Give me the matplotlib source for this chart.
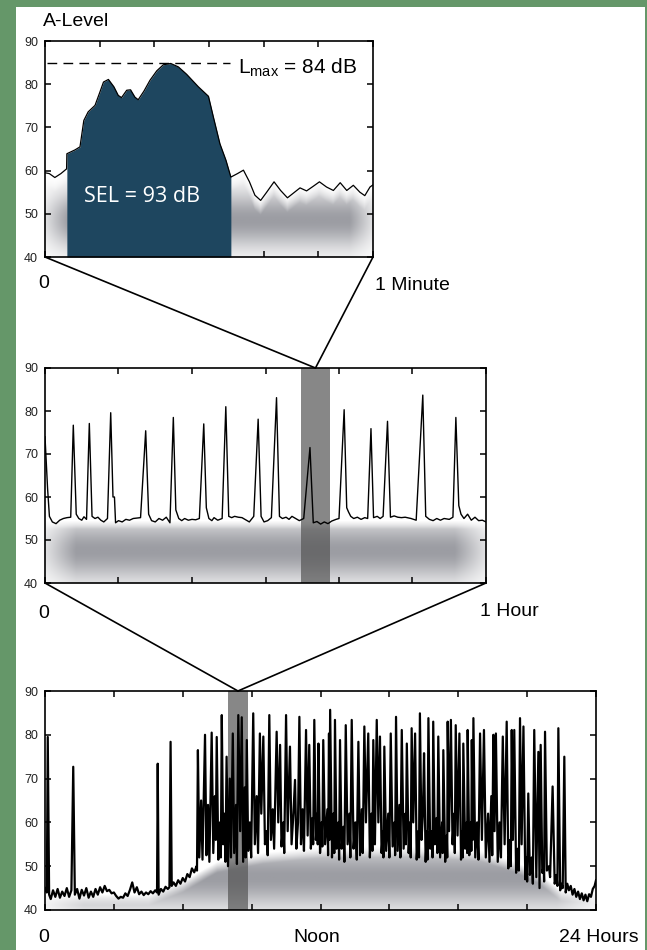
import numpy as np
import matplotlib.pyplot as plt
from matplotlib.colors import LinearSegmentedColormap
from matplotlib.patches import Polygon, Rectangle, ConnectionPatch

plt.rcParams['font.family'] = ['Liberation Sans', 'DejaVu Sans']

# --- 1 minute record (seconds, dB(A)) ---
minute_readings = [
    (0.0, 59.5), (0.8, 59.3), (1.8, 58.4), (2.9, 59.3), (3.95, 60.4),
    (4.0, 63.9), (5.5, 64.8), (6.4, 65.5), (7.1, 71.6), (7.9, 73.6),
    (9.15, 75.1), (10.05, 78.2), (10.7, 80.5), (11.6, 81.1), (12.6, 79.4),
    (13.4, 77.4), (14.0, 76.9), (14.95, 78.6), (15.65, 78.7), (16.45, 77.0),
    (17.05, 76.4), (18.1, 78.4), (19.2, 80.9), (20.45, 83.1), (21.65, 84.5),
    (23.0, 84.8), (24.4, 84.0), (25.9, 82.3), (28.05, 79.4), (29.9, 77.2),
    (30.8, 72.4), (32.0, 66.2), (33.1, 62.4), (34.0, 58.5), (35.2, 59.3),
    (36.3, 60.1), (37.4, 57.4), (38.4, 54.3), (39.45, 53.1), (40.55, 55.0),
    (41.9, 57.4), (43.1, 55.4), (44.35, 53.7), (45.45, 54.8), (46.65, 56.0),
    (47.85, 55.3), (49.1, 56.4), (50.2, 57.4), (51.5, 56.2), (52.75, 55.4),
    (54.0, 57.2), (55.2, 55.4), (56.4, 56.6), (57.6, 55.0), (58.5, 54.2),
    (59.45, 56.2), (60.0, 56.7),
]
sel_window = (4.0, 34.0)
sel_label = 'SEL = 93 dB'
lmax_label = r'L$_{\mathregular{max}}$ = 84 dB'

# --- 1 hour record (minutes, dB(A)) ---
hour_readings = [
    (0.0, 74.0), (0.35, 62.0), (0.6, 55.5), (1.0, 54.2), (1.5, 53.8),
    (2.0, 54.6), (2.5, 55.0), (3.0, 55.2), (3.5, 55.3), (3.85, 76.7),
    (4.25, 56.0), (4.6, 55.0), (5.0, 54.6), (5.3, 55.4), (5.65, 54.8),
    (6.03, 77.1), (6.4, 55.5), (6.8, 55.0), (7.2, 55.3), (7.6, 54.6),
    (8.0, 54.2), (8.5, 55.0), (8.94, 79.6), (9.25, 60.0), (9.45, 60.0),
    (9.6, 54.0), (10.0, 54.5), (10.5, 54.2), (11.0, 54.8), (11.5, 54.6),
    (12.0, 55.0), (12.5, 55.1), (13.0, 55.2), (13.7, 75.4), (14.1, 56.0),
    (14.5, 54.5), (15.0, 54.2), (15.5, 55.0), (16.0, 54.6), (16.5, 55.3),
    (17.0, 54.0), (17.46, 78.5), (17.8, 57.0), (18.2, 55.0), (18.6, 54.5),
    (19.0, 55.0), (19.5, 54.6), (20.0, 54.8), (20.5, 54.7), (21.0, 55.0),
    (21.6, 77.0), (21.95, 57.5), (22.3, 55.0), (22.7, 54.5), (23.0, 55.2),
    (23.5, 54.6), (24.1, 55.0), (24.6, 81.0), (25.0, 55.5), (25.4, 55.2),
    (25.8, 55.5), (26.3, 55.3), (26.8, 55.2), (27.3, 54.7), (27.8, 54.2),
    (28.4, 55.5), (29.0, 78.1), (29.4, 55.5), (29.8, 54.2), (30.3, 54.5),
    (30.8, 55.2), (31.5, 83.1), (31.9, 55.5), (32.3, 55.0), (32.8, 55.3),
    (33.2, 54.8), (33.6, 55.5), (34.1, 55.0), (34.6, 54.5), (35.2, 55.0),
    (36.05, 71.5), (36.5, 54.0), (37.0, 54.3), (37.5, 53.7), (38.0, 54.2),
    (38.5, 53.8), (39.0, 54.4), (39.6, 54.8), (40.0, 55.0), (40.7, 80.3),
    (41.05, 57.5), (41.3, 56.5), (41.6, 55.5), (42.0, 55.0), (42.5, 55.3),
    (43.0, 54.8), (43.5, 55.2), (43.9, 55.0), (44.35, 75.9), (44.7, 55.2),
    (45.2, 55.5), (45.6, 55.0), (46.0, 55.5), (46.6, 77.6), (47.0, 55.3),
    (47.5, 55.6), (48.0, 55.3), (48.5, 55.2), (49.0, 55.3), (49.8, 55.0),
    (50.5, 54.6), (51.4, 83.7), (51.8, 55.5), (52.3, 54.8), (52.8, 54.5),
    (53.3, 55.0), (53.8, 54.6), (54.3, 55.0), (55.0, 54.8), (55.5, 55.3),
    (55.9, 78.5), (56.3, 58.0), (56.6, 56.0), (57.0, 55.0), (57.5, 56.0),
    (58.0, 54.6), (58.5, 55.3), (59.0, 54.5), (59.5, 54.6), (60.0, 54.2),
]
hour_window = (34.8, 38.8)   # the minute shown above

# --- 24 hour record (hours, dB(A)) ---
day_quiet = [
    (0.00, 45.0), (0.08, 44.0), (0.12, 79.5), (0.18, 43.5), (0.25, 42.5),
    (0.35, 44.5), (0.45, 43.0), (0.55, 44.8), (0.65, 42.8), (0.75, 44.2),
    (0.85, 43.2), (0.95, 45.0), (1.05, 43.0), (1.15, 44.5), (1.23, 72.7),
    (1.30, 43.5), (1.40, 44.8), (1.50, 42.6), (1.60, 44.6), (1.70, 43.3),
    (1.80, 45.0), (1.90, 42.8), (2.00, 44.2), (2.10, 43.0), (2.20, 44.8),
    (2.30, 43.5), (2.40, 45.2), (2.50, 44.0), (2.60, 45.5), (2.70, 44.3),
    (2.80, 44.6), (2.90, 43.8), (3.00, 44.0), (3.10, 43.2), (3.20, 42.6),
    (3.30, 43.0), (3.40, 42.8), (3.50, 43.8), (3.60, 43.2), (3.70, 44.6),
    (3.80, 46.3), (3.90, 44.0), (4.00, 45.2), (4.10, 43.6), (4.20, 44.2),
    (4.30, 43.4), (4.40, 44.0), (4.50, 43.6), (4.60, 44.3), (4.70, 43.8),
    (4.80, 44.5), (4.88, 44.0), (4.91, 73.4), (4.95, 43.5), (5.05, 44.8),
    (5.15, 44.2), (5.25, 45.3), (5.35, 44.8), (5.42, 45.2), (5.47, 78.4),
    (5.52, 45.5), (5.60, 46.3), (5.70, 45.5), (5.80, 46.8), (5.90, 46.0),
    (6.00, 47.3), (6.10, 46.5), (6.20, 48.2), (6.30, 47.5), (6.40, 49.5),
    (6.50, 48.6), (6.60, 50.0),
]
day_busy = [
    (6.62, 49.0), (6.66, 76.5), (6.72, 52.0), (6.80, 65.0), (6.86, 51.5),
    (6.97, 80.0), (7.03, 52.5), (7.10, 64.0), (7.16, 51.0), (7.26, 80.5),
    (7.33, 53.0), (7.40, 66.0), (7.44, 56.0), (7.48, 79.5), (7.55, 51.5),
    (7.62, 60.0), (7.66, 52.0), (7.70, 84.5), (7.76, 55.0), (7.82, 62.0),
    (7.86, 51.0), (7.91, 75.0), (7.97, 50.0), (8.05, 70.0), (8.10, 52.0),
    (8.18, 80.3), (8.24, 53.0), (8.32, 64.0), (8.36, 50.5), (8.42, 84.5),
    (8.50, 58.0), (8.57, 84.0), (8.63, 51.0), (8.70, 68.0), (8.74, 52.0),
    (8.79, 78.8), (8.85, 53.5), (8.92, 60.0), (8.98, 52.0), (9.07, 84.9),
    (9.14, 55.0), (9.22, 66.0), (9.28, 53.0), (9.36, 80.3), (9.42, 62.0),
    (9.51, 79.6), (9.58, 55.0), (9.65, 58.0), (9.70, 52.5), (9.77, 84.5),
    (9.84, 56.0), (9.92, 63.0), (9.98, 54.0), (10.09, 80.7), (10.16, 60.0),
    (10.24, 77.7), (10.30, 54.5), (10.38, 60.0), (10.42, 53.0), (10.50, 84.5),
    (10.57, 58.0), (10.67, 77.3), (10.74, 55.0), (10.82, 62.0), (10.89, 69.7),
    (10.95, 54.0), (11.02, 60.0), (11.08, 84.1), (11.15, 55.0), (11.22, 63.0),
    (11.28, 53.5), (11.37, 81.1), (11.44, 57.0), (11.51, 77.7), (11.58, 54.0),
    (11.65, 61.0), (11.68, 55.0), (11.73, 83.4), (11.80, 56.0), (11.86, 62.0),
    (11.88, 55.0), (11.91, 78.0), (11.98, 53.0), (12.05, 60.0), (12.08, 54.5),
    (12.12, 78.8), (12.20, 55.0), (12.30, 63.0), (12.33, 52.5), (12.37, 80.3),
    (12.39, 56.0), (12.42, 85.7), (12.50, 52.0), (12.56, 62.0), (12.60, 53.0),
    (12.63, 83.4), (12.70, 54.0), (12.78, 60.0), (12.81, 51.5), (12.85, 78.8),
    (12.92, 54.0), (13.00, 59.0), (13.04, 51.0), (13.10, 82.2), (13.18, 55.0),
    (13.26, 62.0), (13.30, 52.0), (13.36, 83.4), (13.44, 54.0), (13.52, 60.0),
    (13.58, 51.5), (13.65, 78.4), (13.72, 52.5), (13.80, 63.0), (13.84, 53.0),
    (13.91, 81.9), (13.98, 60.0), (14.08, 80.3), (14.15, 52.0), (14.22, 62.0),
    (14.26, 53.5), (14.30, 78.8), (14.37, 55.0), (14.45, 83.4), (14.52, 60.0),
    (14.59, 79.6), (14.66, 53.0), (14.72, 58.0), (14.74, 52.0), (14.78, 77.3),
    (14.86, 53.5), (14.95, 62.0), (15.00, 52.0), (15.06, 80.3), (15.14, 54.5),
    (15.22, 60.0), (15.25, 52.5), (15.29, 84.1), (15.36, 53.5), (15.44, 64.0),
    (15.48, 52.0), (15.54, 81.1), (15.62, 54.0), (15.70, 62.0), (15.72, 55.0),
    (15.76, 78.0), (15.84, 53.0), (15.90, 60.0), (15.93, 52.0), (15.97, 81.5),
    (16.04, 60.0), (16.12, 80.3), (16.19, 51.5), (16.26, 58.0), (16.29, 52.0),
    (16.33, 84.9), (16.40, 56.0), (16.46, 62.0), (16.51, 75.8), (16.58, 51.0),
    (16.64, 58.0), (16.66, 51.5), (16.70, 83.8), (16.78, 54.0), (16.85, 58.0),
    (16.88, 52.0), (16.91, 83.0), (16.98, 55.0), (17.06, 61.0), (17.09, 53.0),
    (17.13, 79.6), (17.21, 52.0), (17.30, 60.0), (17.32, 53.0), (17.35, 76.5),
    (17.43, 51.0), (17.50, 57.0), (17.52, 52.0), (17.54, 83.0), (17.60, 58.0),
    (17.68, 83.4), (17.75, 55.0), (17.82, 62.0), (17.85, 53.0), (17.89, 82.2),
    (17.97, 57.0), (18.05, 80.3), (18.12, 51.5), (18.18, 58.0), (18.20, 52.0),
    (18.22, 78.0), (18.30, 54.0), (18.37, 60.0), (18.39, 53.0), (18.41, 81.1),
    (18.48, 52.5), (18.55, 60.0), (18.57, 53.5), (18.59, 78.8), (18.63, 56.0),
    (18.66, 83.8), (18.74, 52.0), (18.82, 60.0), (18.88, 51.5), (18.95, 80.3),
    (19.03, 56.0), (19.12, 81.1), (19.20, 52.0), (19.30, 62.0), (19.36, 51.0),
    (19.44, 66.0), (19.48, 52.5), (19.53, 80.0), (19.58, 58.0), (19.64, 80.3),
    (19.72, 51.0), (19.80, 60.0), (19.86, 52.0), (19.94, 79.6), (20.02, 55.0),
    (20.11, 83.0), (20.18, 49.5), (20.26, 56.0), (20.29, 50.0), (20.33, 81.1),
    (20.38, 56.0), (20.44, 81.1), (20.52, 48.5), (20.60, 54.0), (20.64, 49.0),
    (20.69, 83.8), (20.76, 55.0), (20.84, 81.9), (20.92, 47.0), (20.98, 52.0),
    (21.00, 46.5), (21.05, 66.6), (21.12, 48.0), (21.20, 52.0), (21.25, 46.0),
    (21.31, 81.1), (21.40, 47.5), (21.49, 76.1), (21.54, 45.0), (21.59, 77.7),
    (21.66, 48.5), (21.72, 50.0), (21.74, 46.5), (21.78, 80.7), (21.86, 49.0),
    (21.95, 50.0), (22.00, 47.5), (22.11, 68.2), (22.20, 46.0), (22.28, 48.0),
    (22.32, 45.5), (22.36, 81.5), (22.44, 44.5), (22.50, 46.0), (22.55, 45.0),
    (22.62, 75.0), (22.68, 44.0),
]
day_tail = [
    (22.75, 46.0), (22.82, 44.5), (22.90, 45.5), (22.98, 43.5), (23.06, 44.8),
    (23.14, 43.0), (23.22, 44.2), (23.30, 42.5), (23.38, 43.8), (23.46, 42.2),
    (23.54, 43.5), (23.62, 42.0), (23.70, 43.6), (23.78, 43.0), (23.86, 44.8),
    (23.94, 45.5), (24.00, 46.8),
]
day_window = (7.97, 8.84)    # the hour shown above

# upper edge of the grey background haze in each panel
hour_haze = [(0, 54.5), (60, 54.5)]
day_haze = [(0, 43.5), (4.5, 43.5), (6.0, 46.5), (7.5, 51.0), (9.5, 53.0),
            (12, 54.3), (16, 54.5), (19, 53.5), (20.5, 51.0), (21.5, 48.5),
            (22.5, 44.5), (24, 44.0)]

yticks = [40, 50, 60, 70, 80, 90]

min_t, min_db = np.array(minute_readings).T
hour_t, hour_db = np.array(hour_readings).T
day_t, day_db = np.array(day_quiet + day_busy + day_tail).T

navy = '#1e465f'
green = '#659769'
haze_cmap = LinearSegmentedColormap.from_list('haze', ['#ffffff', '#9c9da3'])


def haze(ax, x0, x1, edge_pts, yc=47.5, w=7.0, soft=2.5):
    edge_x, edge_y = np.array(list(edge_pts)).T
    xs = np.linspace(x0, x1, 600)
    ys = np.linspace(40, 62, 260)
    X, Y = np.meshgrid(xs, ys)
    d = np.minimum(X - x0, x1 - X) / ((x1 - x0) * 0.07)
    gx = 0.3 + 0.7 * np.clip(d, 0, 1)
    gy = np.exp(-((Y - yc) / w) ** 2)
    # fade out just below the upper edge so the haze has no hard rim
    top = np.interp(X, edge_x, edge_y)
    fade = np.clip((top - Y) / soft, 0, 1)
    im = ax.imshow(gx * gy * fade, extent=[x0, x1, 40, 62], origin='lower', aspect='auto',
                   cmap=haze_cmap, vmin=0, vmax=1, zorder=1, interpolation='bilinear')
    poly = Polygon([(x0, 40)] + list(zip(edge_x, edge_y)) + [(x1, 40)], closed=True,
                   transform=ax.transData, facecolor='none', edgecolor='none')
    ax.add_patch(poly)
    im.set_clip_path(poly)


def style(ax, xmax, xticks):
    ax.set_xlim(0, xmax)
    ax.set_ylim(40, 90)
    ax.set_xticks(xticks)
    ax.set_yticks(yticks)
    ax.tick_params(direction='in', top=True, right=True, labelbottom=False,
                   length=4, width=1.1, labelsize=9, pad=5, labelcolor='#222222')
    for s in ax.spines.values():
        s.set_linewidth(1.2)


fig = plt.figure(figsize=(6.47, 9.5), dpi=100, facecolor=green)
fig.patches.append(Rectangle((16 / 647, 0), 629 / 647, 943 / 950, transform=fig.transFigure,
                             facecolor='white', edgecolor='none', zorder=-1))

ax_min = fig.add_axes([45 / 647, 1 - 257 / 950, 328 / 647, 216 / 950])
ax_hour = fig.add_axes([45 / 647, 1 - 583 / 950, 441 / 647, 215 / 950])
ax_day = fig.add_axes([45 / 647, 1 - 910 / 950, 551 / 647, 219 / 950])

# minute panel
haze(ax_min, 0, 60, zip(min_t, min_db), yc=48.5, w=6.5, soft=3.5)
in_sel = (min_t >= sel_window[0]) & (min_t <= sel_window[1])
ax_min.fill_between(min_t, 40, min_db, where=in_sel, color=navy, lw=0, zorder=2)
ax_min.plot(min_t, min_db, color='black', lw=0.9, zorder=3)
ax_min.hlines(min_db.max(), 0.35, 33.8, colors='black', lw=1.0, linestyles=(0, (7, 4.5)), zorder=3)
ax_min.text(35.3, 82.6, lmax_label, fontsize=15, va='baseline', ha='left')
ax_min.text(17.8, 53.9, sel_label, color='white', fontsize=15.5, family='Open Sans',
            ha='center', va='center', zorder=4)
style(ax_min, 60, np.arange(0, 61, 10))

# hour panel
haze(ax_hour, 0, 60, hour_haze, soft=2.0)
ax_hour.axvspan(*hour_window, color='#555555', alpha=0.7, lw=0, zorder=2)
ax_hour.plot(hour_t, hour_db, color='black', lw=1.0, zorder=3)
style(ax_hour, 60, np.arange(0, 61, 10))

# day panel
haze(ax_day, 0, 24, day_haze, yc=47.5, w=7.0, soft=2.5)
ax_day.axvspan(*day_window, color='#555555', alpha=0.7, lw=0, zorder=2)
ax_day.plot(day_t, day_db, color='black', lw=1.6, zorder=3)
style(ax_day, 24, np.arange(0, 25, 3))

# zoom connectors
mid_hour = sum(hour_window) / 2
mid_day = sum(day_window) / 2
for xa, ax_a, xb, ax_b in [(0, ax_min, mid_hour, ax_hour), (60, ax_min, mid_hour, ax_hour),
                           (0, ax_hour, mid_day, ax_day), (60, ax_hour, mid_day, ax_day)]:
    con = ConnectionPatch(xyA=(xa, 40), coordsA=ax_a.transData, xyB=(xb, 90),
                          coordsB=ax_b.transData, color='black', lw=1.2)
    fig.add_artist(con)


def px(x, y):
    return x / 647, 1 - y / 950


fig.text(*px(43, 22), 'A-Level', fontsize=14, va='center', ha='left')
fig.text(*px(44, 283), '0', fontsize=14, va='center', ha='center')
fig.text(*px(375, 285), '1 Minute', fontsize=14, va='center', ha='left')
fig.text(*px(44, 613), '0', fontsize=14, va='center', ha='center')
fig.text(*px(480, 612), '1 Hour', fontsize=14, va='center', ha='left')
fig.text(*px(44, 938), '0', fontsize=14, va='center', ha='center')
fig.text(*px(317, 938), 'Noon', fontsize=14, va='center', ha='center')
fig.text(*px(599, 938), '24 Hours', fontsize=14, va='center', ha='center')

fig.savefig('out.png', dpi=100, facecolor=fig.get_facecolor())
